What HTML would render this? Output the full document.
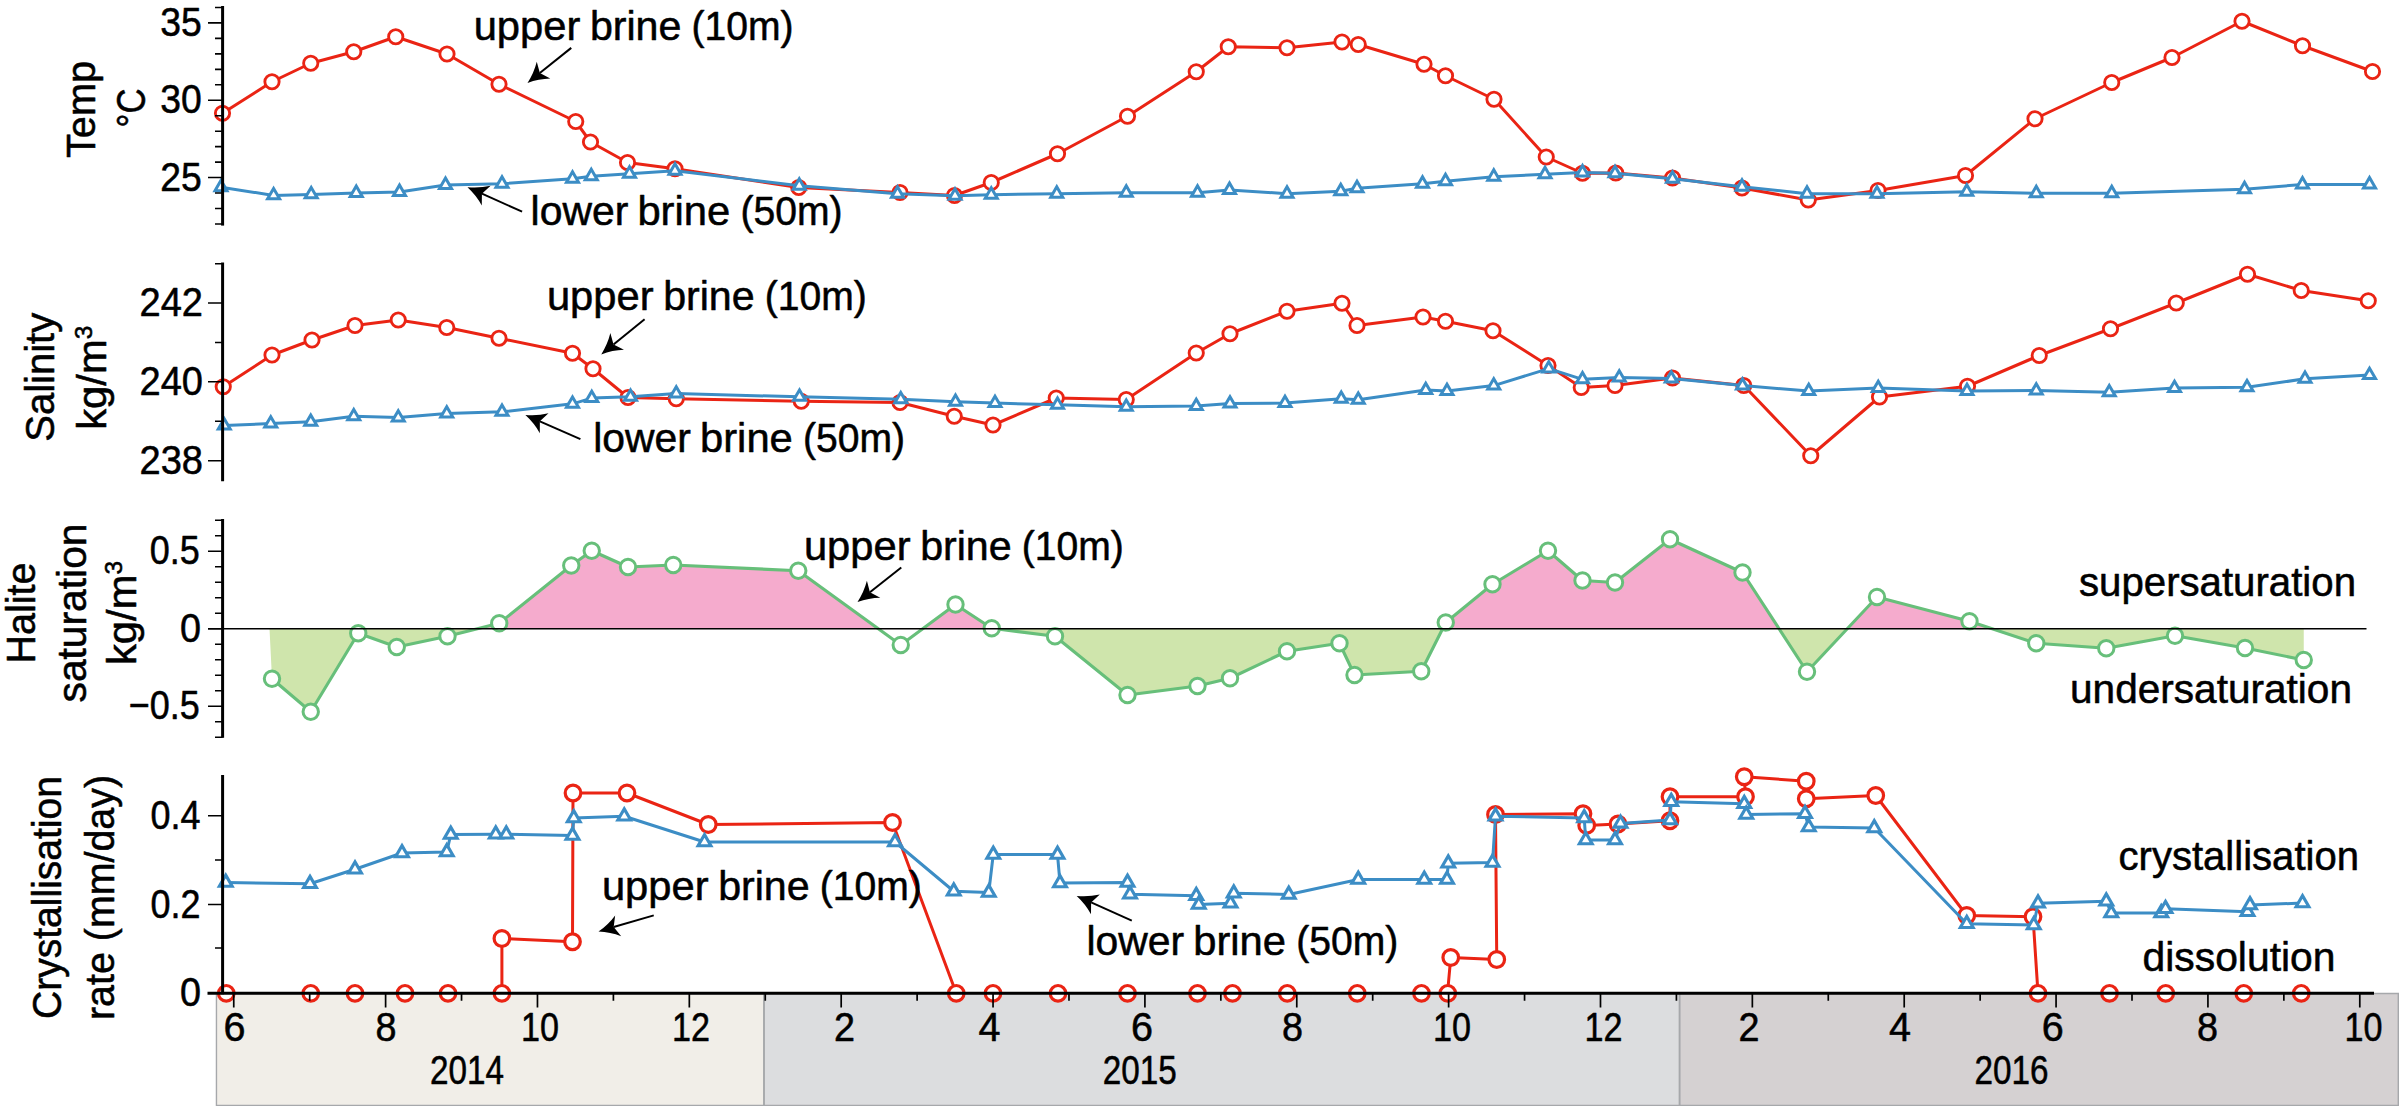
<!DOCTYPE html>
<html lang="en"><head><meta charset="utf-8"><title>Brine time series</title>
<style>html,body{margin:0;padding:0;background:#fff;overflow:hidden}svg{display:block}text{stroke:#000;stroke-width:.55px;stroke-linejoin:round}</style></head><body>
<svg width="2400" height="1106" viewBox="0 0 2400 1106" font-family="Liberation Sans, Arial, sans-serif" fill="#000">
<rect width="2400" height="1106" fill="#fff"/>
<polyline points="222.5,113.25 272,81.75 310.75,63.25 353.75,51.75 395.75,36.75 447,54 499,84.25 575.75,121.5 590.5,142 627.5,162.5 675,168.75 798.75,187.5 900,192.5 954.5,195.5 991.25,182.5 1057.5,153.75 1127.5,116.25 1196.25,71.75 1228.25,46.75 1287,47.75 1342,42 1358.25,44.5 1424,64.25 1445.5,75.75 1494,99.25 1546.25,157 1582.5,173.25 1615.75,173 1672.5,178 1742,188 1808.25,200 1878,190.5 1965.5,175.5 2035,118.75 2111.75,82.5 2172,57.5 2242,21.25 2302.5,45.75 2372.5,71.5" fill="none" stroke="#ea2414" stroke-width="3.0" stroke-linejoin="round"/>
<g fill="#fff" stroke="#ea2414" stroke-width="2.85"><circle cx="222.5" cy="113.25" r="7.15"/><circle cx="272" cy="81.75" r="7.15"/><circle cx="310.75" cy="63.25" r="7.15"/><circle cx="353.75" cy="51.75" r="7.15"/><circle cx="395.75" cy="36.75" r="7.15"/><circle cx="447" cy="54" r="7.15"/><circle cx="499" cy="84.25" r="7.15"/><circle cx="575.75" cy="121.5" r="7.15"/><circle cx="590.5" cy="142" r="7.15"/><circle cx="627.5" cy="162.5" r="7.15"/><circle cx="675" cy="168.75" r="7.15"/><circle cx="798.75" cy="187.5" r="7.15"/><circle cx="900" cy="192.5" r="7.15"/><circle cx="954.5" cy="195.5" r="7.15"/><circle cx="991.25" cy="182.5" r="7.15"/><circle cx="1057.5" cy="153.75" r="7.15"/><circle cx="1127.5" cy="116.25" r="7.15"/><circle cx="1196.25" cy="71.75" r="7.15"/><circle cx="1228.25" cy="46.75" r="7.15"/><circle cx="1287" cy="47.75" r="7.15"/><circle cx="1342" cy="42" r="7.15"/><circle cx="1358.25" cy="44.5" r="7.15"/><circle cx="1424" cy="64.25" r="7.15"/><circle cx="1445.5" cy="75.75" r="7.15"/><circle cx="1494" cy="99.25" r="7.15"/><circle cx="1546.25" cy="157" r="7.15"/><circle cx="1582.5" cy="173.25" r="7.15"/><circle cx="1615.75" cy="173" r="7.15"/><circle cx="1672.5" cy="178" r="7.15"/><circle cx="1742" cy="188" r="7.15"/><circle cx="1808.25" cy="200" r="7.15"/><circle cx="1878" cy="190.5" r="7.15"/><circle cx="1965.5" cy="175.5" r="7.15"/><circle cx="2035" cy="118.75" r="7.15"/><circle cx="2111.75" cy="82.5" r="7.15"/><circle cx="2172" cy="57.5" r="7.15"/><circle cx="2242" cy="21.25" r="7.15"/><circle cx="2302.5" cy="45.75" r="7.15"/><circle cx="2372.5" cy="71.5" r="7.15"/></g>
<polyline points="221,187.2 273.6,195.4 311.2,194.4 356.25,192.95 399.5,191.95 445.5,184.95 502,183.7 572.5,178.7 591.25,176.2 629.5,173.7 675,170.7 799.25,185.7 897.5,193.7 955,195.7 991.25,194.7 1056.75,193.7 1126.25,192.7 1197.5,192.7 1229.5,189.95 1287,193.7 1340.75,191.2 1357,188.2 1422.5,183.7 1445.5,181.2 1493.75,176.7 1545,174.2 1582.5,172.45 1615,173.2 1672.5,178.7 1742,186.7 1807,193.7 1877,193.7 1966.75,191.7 2036.25,193.2 2111.75,193.2 2244.5,189.2 2302.5,184.45 2369.5,184.45" fill="none" stroke="#3c8dc5" stroke-width="3.0" stroke-linejoin="round"/>
<g fill="#fff" stroke="#3c8dc5" stroke-width="3.0" stroke-linejoin="miter"><path d="M221 180.27L227 190.67H215Z"/><path d="M273.6 188.47L279.6 198.87H267.6Z"/><path d="M311.2 187.47L317.2 197.87H305.2Z"/><path d="M356.25 186.02L362.25 196.42H350.25Z"/><path d="M399.5 185.02L405.5 195.42H393.5Z"/><path d="M445.5 178.02L451.5 188.42H439.5Z"/><path d="M502 176.77L508 187.17H496Z"/><path d="M572.5 171.77L578.5 182.17H566.5Z"/><path d="M591.25 169.27L597.25 179.67H585.25Z"/><path d="M629.5 166.77L635.5 177.17H623.5Z"/><path d="M675 163.77L681 174.17H669Z"/><path d="M799.25 178.77L805.25 189.17H793.25Z"/><path d="M897.5 186.77L903.5 197.17H891.5Z"/><path d="M955 188.77L961 199.17H949Z"/><path d="M991.25 187.77L997.25 198.17H985.25Z"/><path d="M1056.75 186.77L1062.75 197.17H1050.75Z"/><path d="M1126.25 185.77L1132.25 196.17H1120.25Z"/><path d="M1197.5 185.77L1203.5 196.17H1191.5Z"/><path d="M1229.5 183.02L1235.5 193.42H1223.5Z"/><path d="M1287 186.77L1293 197.17H1281Z"/><path d="M1340.75 184.27L1346.75 194.67H1334.75Z"/><path d="M1357 181.27L1363 191.67H1351Z"/><path d="M1422.5 176.77L1428.5 187.17H1416.5Z"/><path d="M1445.5 174.27L1451.5 184.67H1439.5Z"/><path d="M1493.75 169.77L1499.75 180.17H1487.75Z"/><path d="M1545 167.27L1551 177.67H1539Z"/><path d="M1582.5 165.52L1588.5 175.92H1576.5Z"/><path d="M1615 166.27L1621 176.67H1609Z"/><path d="M1672.5 171.77L1678.5 182.17H1666.5Z"/><path d="M1742 179.77L1748 190.17H1736Z"/><path d="M1807 186.77L1813 197.17H1801Z"/><path d="M1877 186.77L1883 197.17H1871Z"/><path d="M1966.75 184.77L1972.75 195.17H1960.75Z"/><path d="M2036.25 186.27L2042.25 196.67H2030.25Z"/><path d="M2111.75 186.27L2117.75 196.67H2105.75Z"/><path d="M2244.5 182.27L2250.5 192.67H2238.5Z"/><path d="M2302.5 177.52L2308.5 187.92H2296.5Z"/><path d="M2369.5 177.52L2375.5 187.92H2363.5Z"/></g>
<line x1="222.6" y1="6" x2="222.6" y2="225.6" stroke="#000" stroke-width="3"/>
<path d="M222.6 22.9H208M222.6 100.2H208M222.6 177.5H208M222.6 7.5H215M222.6 38.42H215M222.6 53.88H215M222.6 69.34H215M222.6 84.8H215M222.6 115.72H215M222.6 131.18H215M222.6 146.64H215M222.6 162.1H215M222.6 193.02H215M222.6 208.48H215M222.6 223.94H215" stroke="#000" stroke-width="1.6" fill="none"/>
<text x="201.8" y="36" font-size="41" text-anchor="end" textLength="41.5" lengthAdjust="spacingAndGlyphs">35</text>
<text x="201.8" y="113.3" font-size="41" text-anchor="end" textLength="41.5" lengthAdjust="spacingAndGlyphs">30</text>
<text x="201.8" y="190.6" font-size="41" text-anchor="end" textLength="41.5" lengthAdjust="spacingAndGlyphs">25</text>
<text x="95" y="109.5" font-size="41" text-anchor="middle" textLength="97" lengthAdjust="spacingAndGlyphs" transform="rotate(-90 95 109.5)">Temp</text>
<text x="145" y="108" font-size="41" text-anchor="middle" textLength="39" lengthAdjust="spacingAndGlyphs" transform="rotate(-90 145 108)">°C</text>
<text x="473.65" y="39.8" font-size="41" text-anchor="start" textLength="106.65" lengthAdjust="spacingAndGlyphs">upper</text>
<text x="589.9" y="39.8" font-size="41" text-anchor="start" textLength="91.5" lengthAdjust="spacingAndGlyphs">brine</text>
<text x="691.45" y="39.8" font-size="41" text-anchor="start" textLength="102.1" lengthAdjust="spacingAndGlyphs">(10m)</text>
<text x="530.6" y="224.6" font-size="41" text-anchor="start" textLength="97.7" lengthAdjust="spacingAndGlyphs">lower</text>
<text x="637.4" y="224.6" font-size="41" text-anchor="start" textLength="92.8" lengthAdjust="spacingAndGlyphs">brine</text>
<text x="740.4" y="224.6" font-size="41" text-anchor="start" textLength="102.1" lengthAdjust="spacingAndGlyphs">(50m)</text>
<line x1="571.25" y1="47.9" x2="539.84" y2="73.03" stroke="#000" stroke-width="2"/>
<path d="M527.5 82.9Q533.94 72.9 536.76 61.66L539.84 73.03L550.25 78.53Q538.67 78.81 527.5 82.9Z" fill="#000"/>
<line x1="522.1" y1="211.7" x2="481.92" y2="193.67" stroke="#000" stroke-width="2"/>
<path d="M467.5 187.2Q479.33 188.37 490.62 185.74L481.92 193.67L481.78 205.45Q476.24 195.26 467.5 187.2Z" fill="#000"/>
<polyline points="223.25,386.75 272,355 312,340 355,325.5 398.25,320 446.75,327.5 499,338.25 572.5,353.25 593,368.75 628,397.5 676.25,398.75 801.25,401.25 900,402.5 954.25,416.25 993,425 1056.25,398 1126.25,399.5 1196.25,353 1230,333.75 1287,311.25 1342,303.25 1357,325.5 1423,317 1445.5,321.25 1493,330.75 1548,365.5 1581.25,387.5 1615,385.5 1672.5,378 1743.75,385.5 1810.75,455.75 1879.5,397 1967.5,386.25 2039.25,355.5 2110.5,328.75 2176.25,303 2247.5,274.25 2301.25,290.5 2368.25,300.75" fill="none" stroke="#ea2414" stroke-width="3.0" stroke-linejoin="round"/>
<g fill="#fff" stroke="#ea2414" stroke-width="2.85"><circle cx="223.25" cy="386.75" r="7.15"/><circle cx="272" cy="355" r="7.15"/><circle cx="312" cy="340" r="7.15"/><circle cx="355" cy="325.5" r="7.15"/><circle cx="398.25" cy="320" r="7.15"/><circle cx="446.75" cy="327.5" r="7.15"/><circle cx="499" cy="338.25" r="7.15"/><circle cx="572.5" cy="353.25" r="7.15"/><circle cx="593" cy="368.75" r="7.15"/><circle cx="628" cy="397.5" r="7.15"/><circle cx="676.25" cy="398.75" r="7.15"/><circle cx="801.25" cy="401.25" r="7.15"/><circle cx="900" cy="402.5" r="7.15"/><circle cx="954.25" cy="416.25" r="7.15"/><circle cx="993" cy="425" r="7.15"/><circle cx="1056.25" cy="398" r="7.15"/><circle cx="1126.25" cy="399.5" r="7.15"/><circle cx="1196.25" cy="353" r="7.15"/><circle cx="1230" cy="333.75" r="7.15"/><circle cx="1287" cy="311.25" r="7.15"/><circle cx="1342" cy="303.25" r="7.15"/><circle cx="1357" cy="325.5" r="7.15"/><circle cx="1423" cy="317" r="7.15"/><circle cx="1445.5" cy="321.25" r="7.15"/><circle cx="1493" cy="330.75" r="7.15"/><circle cx="1548" cy="365.5" r="7.15"/><circle cx="1581.25" cy="387.5" r="7.15"/><circle cx="1615" cy="385.5" r="7.15"/><circle cx="1672.5" cy="378" r="7.15"/><circle cx="1743.75" cy="385.5" r="7.15"/><circle cx="1810.75" cy="455.75" r="7.15"/><circle cx="1879.5" cy="397" r="7.15"/><circle cx="1967.5" cy="386.25" r="7.15"/><circle cx="2039.25" cy="355.5" r="7.15"/><circle cx="2110.5" cy="328.75" r="7.15"/><circle cx="2176.25" cy="303" r="7.15"/><circle cx="2247.5" cy="274.25" r="7.15"/><circle cx="2301.25" cy="290.5" r="7.15"/><circle cx="2368.25" cy="300.75" r="7.15"/></g>
<polyline points="224.25,425.6 270.75,423.6 310.75,421.85 353.75,416.35 398.25,417.6 446.75,413.6 502,411.85 572.5,403.85 591.75,398.1 630.5,396.85 676.25,393.6 799.5,396.85 900.75,399.35 955.5,401.85 995,403.1 1057.5,404.85 1126.25,406.85 1196.25,406.1 1230,403.6 1285,403.1 1341.25,398.85 1358.25,399.85 1425.75,390.1 1447,391.1 1493.75,385.6 1548.75,368.6 1582.5,379.35 1619.25,377.6 1671.25,378.6 1742.5,385.6 1808.75,391.1 1878.25,388.1 1967,391.1 2036.25,390.6 2109.25,392.35 2174.5,388.1 2247,387.35 2305,378.85 2369.5,375.1" fill="none" stroke="#3c8dc5" stroke-width="3.0" stroke-linejoin="round"/>
<g fill="#fff" stroke="#3c8dc5" stroke-width="3.0" stroke-linejoin="miter"><path d="M224.25 418.67L230.25 429.07H218.25Z"/><path d="M270.75 416.67L276.75 427.07H264.75Z"/><path d="M310.75 414.92L316.75 425.32H304.75Z"/><path d="M353.75 409.42L359.75 419.82H347.75Z"/><path d="M398.25 410.67L404.25 421.07H392.25Z"/><path d="M446.75 406.67L452.75 417.07H440.75Z"/><path d="M502 404.92L508 415.32H496Z"/><path d="M572.5 396.92L578.5 407.32H566.5Z"/><path d="M591.75 391.17L597.75 401.57H585.75Z"/><path d="M630.5 389.92L636.5 400.32H624.5Z"/><path d="M676.25 386.67L682.25 397.07H670.25Z"/><path d="M799.5 389.92L805.5 400.32H793.5Z"/><path d="M900.75 392.42L906.75 402.82H894.75Z"/><path d="M955.5 394.92L961.5 405.32H949.5Z"/><path d="M995 396.17L1001 406.57H989Z"/><path d="M1057.5 397.92L1063.5 408.32H1051.5Z"/><path d="M1126.25 399.92L1132.25 410.32H1120.25Z"/><path d="M1196.25 399.17L1202.25 409.57H1190.25Z"/><path d="M1230 396.67L1236 407.07H1224Z"/><path d="M1285 396.17L1291 406.57H1279Z"/><path d="M1341.25 391.92L1347.25 402.32H1335.25Z"/><path d="M1358.25 392.92L1364.25 403.32H1352.25Z"/><path d="M1425.75 383.17L1431.75 393.57H1419.75Z"/><path d="M1447 384.17L1453 394.57H1441Z"/><path d="M1493.75 378.67L1499.75 389.07H1487.75Z"/><path d="M1548.75 361.67L1554.75 372.07H1542.75Z"/><path d="M1582.5 372.42L1588.5 382.82H1576.5Z"/><path d="M1619.25 370.67L1625.25 381.07H1613.25Z"/><path d="M1671.25 371.67L1677.25 382.07H1665.25Z"/><path d="M1742.5 378.67L1748.5 389.07H1736.5Z"/><path d="M1808.75 384.17L1814.75 394.57H1802.75Z"/><path d="M1878.25 381.17L1884.25 391.57H1872.25Z"/><path d="M1967 384.17L1973 394.57H1961Z"/><path d="M2036.25 383.67L2042.25 394.07H2030.25Z"/><path d="M2109.25 385.42L2115.25 395.82H2103.25Z"/><path d="M2174.5 381.17L2180.5 391.57H2168.5Z"/><path d="M2247 380.42L2253 390.82H2241Z"/><path d="M2305 371.92L2311 382.32H2299Z"/><path d="M2369.5 368.17L2375.5 378.57H2363.5Z"/></g>
<line x1="222.6" y1="262.5" x2="222.6" y2="481.25" stroke="#000" stroke-width="3"/>
<path d="M222.6 303H208M222.6 381.75H208M222.6 460.75H208M222.6 263.75H215M222.6 342.5H215M222.6 421.25H215" stroke="#000" stroke-width="1.6" fill="none"/>
<text x="203" y="316.1" font-size="41" text-anchor="end" textLength="63.5" lengthAdjust="spacingAndGlyphs">242</text>
<text x="203" y="394.85" font-size="41" text-anchor="end" textLength="63.5" lengthAdjust="spacingAndGlyphs">240</text>
<text x="203" y="473.85" font-size="41" text-anchor="end" textLength="63.5" lengthAdjust="spacingAndGlyphs">238</text>
<text x="53.75" y="377.25" font-size="41" text-anchor="middle" textLength="129" lengthAdjust="spacingAndGlyphs" transform="rotate(-90 53.75 377.25)">Salinity</text>
<text x="106.25" y="377.75" font-size="41" text-anchor="middle" textLength="104" lengthAdjust="spacingAndGlyphs" transform="rotate(-90 106.25 377.75)">kg/m<tspan font-size="24" dy="-14">3</tspan></text>
<text x="546.9" y="310" font-size="41" text-anchor="start" textLength="106.65" lengthAdjust="spacingAndGlyphs">upper</text>
<text x="663.15" y="310" font-size="41" text-anchor="start" textLength="91.5" lengthAdjust="spacingAndGlyphs">brine</text>
<text x="764.7" y="310" font-size="41" text-anchor="start" textLength="102.1" lengthAdjust="spacingAndGlyphs">(10m)</text>
<text x="593.2" y="451.7" font-size="41" text-anchor="start" textLength="97.7" lengthAdjust="spacingAndGlyphs">lower</text>
<text x="700" y="451.7" font-size="41" text-anchor="start" textLength="92.8" lengthAdjust="spacingAndGlyphs">brine</text>
<text x="803" y="451.7" font-size="41" text-anchor="start" textLength="102.1" lengthAdjust="spacingAndGlyphs">(50m)</text>
<line x1="644.6" y1="319.2" x2="613.52" y2="344.44" stroke="#000" stroke-width="2"/>
<path d="M601.25 354.4Q607.62 344.36 610.36 333.09L613.52 344.44L623.97 349.86Q612.39 350.23 601.25 354.4Z" fill="#000"/>
<line x1="580.4" y1="439.2" x2="539.86" y2="421.36" stroke="#000" stroke-width="2"/>
<path d="M525.4 415Q537.24 416.08 548.51 413.37L539.86 421.36L539.81 433.14Q534.2 423 525.4 415Z" fill="#000"/>
<polygon points="269.5,628.75 272,678.75 310.75,711.75 358.25,633.25 396.75,647 447.5,636.25 477.36,628.75" fill="#cfe5ac"/>
<polygon points="477.36,628.75 499.25,623.25 571.25,565.5 591.75,550.75 628,567 673.25,565 798.25,570.75 878.32,628.75" fill="#f5abcd"/>
<polygon points="922.72,628.75 955.5,604.5 991.75,628.25 995.7,628.75" fill="#f5abcd"/>
<polygon points="995.7,628.75 1055,636.25 1127.5,695 1197.5,686 1230,678.25 1287,651.25 1339.5,643.25 1354.5,675 1421.25,671.25 1442.61,628.75" fill="#cfe5ac"/>
<polygon points="1442.61,628.75 1445.75,622.5 1492.5,584.25 1548,550.75 1582.5,580.5 1615,582.5 1670,539.25 1742.5,572.5 1779.06,628.75" fill="#f5abcd"/>
<polygon points="1779.06,628.75 1807,671.75 1847.27,628.75" fill="#cfe5ac"/>
<polygon points="1847.27,628.75 1877,597 1969.5,621.25 1992.26,628.75" fill="#f5abcd"/>
<polygon points="1992.26,628.75 2036.25,643.25 2106.25,648.25 2175,635.75 2245,648 2303.75,660 2303.75,628.75" fill="#cfe5ac"/>
<polyline points="272,678.75 310.75,711.75 358.25,633.25 396.75,647 447.5,636.25 499.25,623.25 571.25,565.5 591.75,550.75 628,567 673.25,565 798.25,570.75 900.75,645 955.5,604.5 991.75,628.25 1055,636.25 1127.5,695 1197.5,686 1230,678.25 1287,651.25 1339.5,643.25 1354.5,675 1421.25,671.25 1445.75,622.5 1492.5,584.25 1548,550.75 1582.5,580.5 1615,582.5 1670,539.25 1742.5,572.5 1807,671.75 1877,597 1969.5,621.25 2036.25,643.25 2106.25,648.25 2175,635.75 2245,648 2303.75,660" fill="none" stroke="#67bf7a" stroke-width="3.1" stroke-linejoin="round"/>
<g fill="#fff" stroke="#67bf7a" stroke-width="3.0"><circle cx="272" cy="678.75" r="7.7"/><circle cx="310.75" cy="711.75" r="7.7"/><circle cx="358.25" cy="633.25" r="7.7"/><circle cx="396.75" cy="647" r="7.7"/><circle cx="447.5" cy="636.25" r="7.7"/><circle cx="499.25" cy="623.25" r="7.7"/><circle cx="571.25" cy="565.5" r="7.7"/><circle cx="591.75" cy="550.75" r="7.7"/><circle cx="628" cy="567" r="7.7"/><circle cx="673.25" cy="565" r="7.7"/><circle cx="798.25" cy="570.75" r="7.7"/><circle cx="900.75" cy="645" r="7.7"/><circle cx="955.5" cy="604.5" r="7.7"/><circle cx="991.75" cy="628.25" r="7.7"/><circle cx="1055" cy="636.25" r="7.7"/><circle cx="1127.5" cy="695" r="7.7"/><circle cx="1197.5" cy="686" r="7.7"/><circle cx="1230" cy="678.25" r="7.7"/><circle cx="1287" cy="651.25" r="7.7"/><circle cx="1339.5" cy="643.25" r="7.7"/><circle cx="1354.5" cy="675" r="7.7"/><circle cx="1421.25" cy="671.25" r="7.7"/><circle cx="1445.75" cy="622.5" r="7.7"/><circle cx="1492.5" cy="584.25" r="7.7"/><circle cx="1548" cy="550.75" r="7.7"/><circle cx="1582.5" cy="580.5" r="7.7"/><circle cx="1615" cy="582.5" r="7.7"/><circle cx="1670" cy="539.25" r="7.7"/><circle cx="1742.5" cy="572.5" r="7.7"/><circle cx="1807" cy="671.75" r="7.7"/><circle cx="1877" cy="597" r="7.7"/><circle cx="1969.5" cy="621.25" r="7.7"/><circle cx="2036.25" cy="643.25" r="7.7"/><circle cx="2106.25" cy="648.25" r="7.7"/><circle cx="2175" cy="635.75" r="7.7"/><circle cx="2245" cy="648" r="7.7"/><circle cx="2303.75" cy="660" r="7.7"/></g>
<line x1="208" y1="628.75" x2="2366.5" y2="628.75" stroke="#000" stroke-width="1.3"/>
<line x1="222.6" y1="519" x2="222.6" y2="737.8" stroke="#000" stroke-width="3"/>
<path d="M222.6 551.25H208M222.6 628.75H208M222.6 706.25H208M222.6 520.25H215M222.6 535.75H215M222.6 566.75H215M222.6 582.25H215M222.6 597.75H215M222.6 613.25H215M222.6 644.25H215M222.6 659.75H215M222.6 675.25H215M222.6 690.75H215M222.6 721.75H215M222.6 737.25H215" stroke="#000" stroke-width="1.6" fill="none"/>
<text x="199.8" y="564.3" font-size="41" text-anchor="end" textLength="50" lengthAdjust="spacingAndGlyphs">0.5</text>
<text x="201" y="641.8" font-size="41" text-anchor="end" textLength="21" lengthAdjust="spacingAndGlyphs">0</text>
<text x="199.8" y="719.3" font-size="41" text-anchor="end" textLength="71" lengthAdjust="spacingAndGlyphs">−0.5</text>
<text x="35" y="613" font-size="41" text-anchor="middle" textLength="101" lengthAdjust="spacingAndGlyphs" transform="rotate(-90 35 613)">Halite</text>
<text x="86.25" y="613" font-size="41" text-anchor="middle" textLength="179" lengthAdjust="spacingAndGlyphs" transform="rotate(-90 86.25 613)">saturation</text>
<text x="136.25" y="613" font-size="41" text-anchor="middle" textLength="104" lengthAdjust="spacingAndGlyphs" transform="rotate(-90 136.25 613)">kg/m<tspan font-size="24" dy="-14">3</tspan></text>
<text x="803.9" y="559.7" font-size="41" text-anchor="start" textLength="106.65" lengthAdjust="spacingAndGlyphs">upper</text>
<text x="920.15" y="559.7" font-size="41" text-anchor="start" textLength="91.5" lengthAdjust="spacingAndGlyphs">brine</text>
<text x="1021.7" y="559.7" font-size="41" text-anchor="start" textLength="102.1" lengthAdjust="spacingAndGlyphs">(10m)</text>
<line x1="901.25" y1="567.5" x2="869.91" y2="592.22" stroke="#000" stroke-width="2"/>
<path d="M857.5 602Q864.01 592.05 866.91 580.83L869.91 592.22L880.28 597.79Q868.69 597.99 857.5 602Z" fill="#000"/>
<text x="2079" y="595.5" font-size="41" text-anchor="start" textLength="277" lengthAdjust="spacingAndGlyphs">supersaturation</text>
<text x="2070" y="702.5" font-size="41" text-anchor="start" textLength="282" lengthAdjust="spacingAndGlyphs">undersaturation</text>
<rect x="216.4" y="993.5" width="547.6" height="113" fill="#f1eee8"/>
<rect x="764" y="993.5" width="915.6" height="113" fill="#dcdddf"/>
<rect x="1679.6" y="993.5" width="718.7" height="113" fill="#d5d1d2"/>
<path d="M216.45 993.5V1105.4H2398.3V993.5Z" fill="none" stroke="#a6a8ab" stroke-width="1.4"/>
<path d="M764 993.5V1105M1679.6 993.5V1105" fill="none" stroke="#a6a8ab" stroke-width="1.9"/>
<polyline points="501.9,993.3 501.9,938.5 572.5,941.75 573,793 627,793 708.25,824.5 892.5,822.5 956.25,993.3" fill="none" stroke="#ea2414" stroke-width="3.0" stroke-linejoin="round"/>
<polyline points="1447.5,993.3 1450.75,957.5 1496.75,959.5 1495.5,814.5 1583,813.75 1586.7,825.4 1618,824 1670,820.75 1670,796.75 1745.5,796.75 1744.25,776.75 1806.25,781.25 1806.25,798.75 1875.75,795.5 1966.75,915.5 2033,916.75 2038,993.3" fill="none" stroke="#ea2414" stroke-width="3.0" stroke-linejoin="round"/>
<g fill="#fff" stroke="#ea2414" stroke-width="3.2"><circle cx="226.25" cy="993.3" r="7.8"/><circle cx="310.75" cy="993.3" r="7.8"/><circle cx="355" cy="993.3" r="7.8"/><circle cx="405" cy="993.3" r="7.8"/><circle cx="448" cy="993.3" r="7.8"/><circle cx="501.9" cy="993.3" r="7.8"/><circle cx="956.25" cy="993.3" r="7.8"/><circle cx="993" cy="993.3" r="7.8"/><circle cx="1058" cy="993.3" r="7.8"/><circle cx="1127.5" cy="993.3" r="7.8"/><circle cx="1197.5" cy="993.3" r="7.8"/><circle cx="1232.5" cy="993.3" r="7.8"/><circle cx="1287.25" cy="993.3" r="7.8"/><circle cx="1357.25" cy="993.3" r="7.8"/><circle cx="1421.5" cy="993.3" r="7.8"/><circle cx="1447.75" cy="993.3" r="7.8"/><circle cx="2038" cy="993.3" r="7.8"/><circle cx="2109.5" cy="993.3" r="7.8"/><circle cx="2165.75" cy="993.3" r="7.8"/><circle cx="2243.75" cy="993.3" r="7.8"/><circle cx="2301.25" cy="993.3" r="7.8"/><circle cx="501.9" cy="938.5" r="7.8"/><circle cx="572.5" cy="941.75" r="7.8"/><circle cx="573" cy="793" r="7.8"/><circle cx="627" cy="793" r="7.8"/><circle cx="708.25" cy="824.5" r="7.8"/><circle cx="892.5" cy="822.5" r="7.8"/><circle cx="1450.75" cy="957.5" r="7.8"/><circle cx="1496.75" cy="959.5" r="7.8"/><circle cx="1495.5" cy="814.5" r="7.8"/><circle cx="1583" cy="813.75" r="7.8"/><circle cx="1586.7" cy="825.4" r="7.8"/><circle cx="1618" cy="824" r="7.8"/><circle cx="1670" cy="820.75" r="7.8"/><circle cx="1670" cy="796.75" r="7.8"/><circle cx="1745.5" cy="796.75" r="7.8"/><circle cx="1744.25" cy="776.75" r="7.8"/><circle cx="1806.25" cy="781.25" r="7.8"/><circle cx="1806.25" cy="798.75" r="7.8"/><circle cx="1875.75" cy="795.5" r="7.8"/><circle cx="1966.75" cy="915.5" r="7.8"/><circle cx="2033" cy="916.75" r="7.8"/></g>
<polyline points="225.75,882.5 310,883.75 355,869.25 402,853 446.75,852 450.75,834.5 495.75,834.25 506.25,834.25 572.5,835.5 573.75,818 624.25,816.25 704.5,842 895,842 953.75,891.25 988.75,892.5 993.25,854.5 1057.5,854.5 1060,883 1127.5,882.5 1130,894.25 1196.25,895.75 1198.75,904.5 1230.5,903.25 1233.75,893.25 1288.75,894.5 1358.25,879.5 1424.25,879.5 1447,879.5 1448.25,863.25 1492.5,862.5 1495.5,816.25 1584.2,818 1585.75,840 1615,840 1620.5,823.4 1670,820 1671.25,801.75 1744.25,803.75 1746.25,814.5 1805,813.75 1808.75,827 1874.25,828 1966.75,923.75 2033.75,925 2038,903.25 2106.25,901.25 2111.25,913 2161.25,913 2165.5,908.75 2247.5,911.75 2250,905 2302.5,903" fill="none" stroke="#3c8dc5" stroke-width="3.0" stroke-linejoin="round"/>
<g fill="#fff" stroke="#3c8dc5" stroke-width="3.1" stroke-linejoin="miter"><path d="M225.75 875.1L232.16 886.2H219.34Z"/><path d="M310 876.35L316.41 887.45H303.59Z"/><path d="M355 861.85L361.41 872.95H348.59Z"/><path d="M402 845.6L408.41 856.7H395.59Z"/><path d="M446.75 844.6L453.16 855.7H440.34Z"/><path d="M450.75 827.1L457.16 838.2H444.34Z"/><path d="M495.75 826.85L502.16 837.95H489.34Z"/><path d="M506.25 826.85L512.66 837.95H499.84Z"/><path d="M572.5 828.1L578.91 839.2H566.09Z"/><path d="M573.75 810.6L580.16 821.7H567.34Z"/><path d="M624.25 808.85L630.66 819.95H617.84Z"/><path d="M704.5 834.6L710.91 845.7H698.09Z"/><path d="M895 834.6L901.41 845.7H888.59Z"/><path d="M953.75 883.85L960.16 894.95H947.34Z"/><path d="M988.75 885.1L995.16 896.2H982.34Z"/><path d="M993.25 847.1L999.66 858.2H986.84Z"/><path d="M1057.5 847.1L1063.91 858.2H1051.09Z"/><path d="M1060 875.6L1066.41 886.7H1053.59Z"/><path d="M1127.5 875.1L1133.91 886.2H1121.09Z"/><path d="M1130 886.85L1136.41 897.95H1123.59Z"/><path d="M1196.25 888.35L1202.66 899.45H1189.84Z"/><path d="M1198.75 897.1L1205.16 908.2H1192.34Z"/><path d="M1230.5 895.85L1236.91 906.95H1224.09Z"/><path d="M1233.75 885.85L1240.16 896.95H1227.34Z"/><path d="M1288.75 887.1L1295.16 898.2H1282.34Z"/><path d="M1358.25 872.1L1364.66 883.2H1351.84Z"/><path d="M1424.25 872.1L1430.66 883.2H1417.84Z"/><path d="M1447 872.1L1453.41 883.2H1440.59Z"/><path d="M1448.25 855.85L1454.66 866.95H1441.84Z"/><path d="M1492.5 855.1L1498.91 866.2H1486.09Z"/><path d="M1495.5 808.85L1501.91 819.95H1489.09Z"/><path d="M1584.2 810.6L1590.61 821.7H1577.79Z"/><path d="M1585.75 832.6L1592.16 843.7H1579.34Z"/><path d="M1615 832.6L1621.41 843.7H1608.59Z"/><path d="M1620.5 816L1626.91 827.1H1614.09Z"/><path d="M1670 812.6L1676.41 823.7H1663.59Z"/><path d="M1671.25 794.35L1677.66 805.45H1664.84Z"/><path d="M1744.25 796.35L1750.66 807.45H1737.84Z"/><path d="M1746.25 807.1L1752.66 818.2H1739.84Z"/><path d="M1805 806.35L1811.41 817.45H1798.59Z"/><path d="M1808.75 819.6L1815.16 830.7H1802.34Z"/><path d="M1874.25 820.6L1880.66 831.7H1867.84Z"/><path d="M1966.75 916.35L1973.16 927.45H1960.34Z"/><path d="M2033.75 917.6L2040.16 928.7H2027.34Z"/><path d="M2038 895.85L2044.41 906.95H2031.59Z"/><path d="M2106.25 893.85L2112.66 904.95H2099.84Z"/><path d="M2111.25 905.6L2117.66 916.7H2104.84Z"/><path d="M2161.25 905.6L2167.66 916.7H2154.84Z"/><path d="M2165.5 901.35L2171.91 912.45H2159.09Z"/><path d="M2247.5 904.35L2253.91 915.45H2241.09Z"/><path d="M2250 897.6L2256.41 908.7H2243.59Z"/><path d="M2302.5 895.6L2308.91 906.7H2296.09Z"/></g>
<line x1="222.6" y1="775" x2="222.6" y2="994.3" stroke="#000" stroke-width="3"/>
<path d="M222.6 815.75H208M222.6 904.5H208M222.6 860H215M222.6 948H215" stroke="#000" stroke-width="1.6" fill="none"/>
<line x1="207.5" y1="993.3" x2="2374" y2="993.3" stroke="#000" stroke-width="2.9"/>
<path d="M233.75 993V1007.6M309.68 993V1000.8M385.61 993V1007.6M461.54 993V1000.8M537.47 993V1007.6M613.4 993V1000.8M689.33 993V1007.6M765.26 993V1000.8M841.19 993V1007.6M917.12 993V1000.8M993.05 993V1007.6M1068.98 993V1000.8M1144.91 993V1007.6M1220.84 993V1000.8M1296.77 993V1007.6M1372.7 993V1000.8M1448.63 993V1007.6M1524.56 993V1000.8M1600.49 993V1007.6M1676.42 993V1000.8M1752.35 993V1007.6M1828.28 993V1000.8M1904.21 993V1007.6M1980.14 993V1000.8M2056.07 993V1007.6M2132 993V1000.8M2207.93 993V1007.6M2283.86 993V1000.8M2359.79 993V1007.6" stroke="#000" stroke-width="1.7" fill="none"/>
<text x="200.5" y="828.8" font-size="41" text-anchor="end" textLength="50" lengthAdjust="spacingAndGlyphs">0.4</text>
<text x="200.5" y="917.6" font-size="41" text-anchor="end" textLength="50" lengthAdjust="spacingAndGlyphs">0.2</text>
<text x="201" y="1006.2" font-size="41" text-anchor="end" textLength="21" lengthAdjust="spacingAndGlyphs">0</text>
<text x="234.5" y="1041" font-size="41" text-anchor="middle" textLength="22" lengthAdjust="spacingAndGlyphs">6</text>
<text x="385.9" y="1041" font-size="41" text-anchor="middle" textLength="21" lengthAdjust="spacingAndGlyphs">8</text>
<text x="540" y="1041" font-size="41" text-anchor="middle" textLength="38" lengthAdjust="spacingAndGlyphs">10</text>
<text x="691" y="1041" font-size="41" text-anchor="middle" textLength="38" lengthAdjust="spacingAndGlyphs">12</text>
<text x="844.5" y="1041" font-size="41" text-anchor="middle" textLength="21" lengthAdjust="spacingAndGlyphs">2</text>
<text x="989.5" y="1041" font-size="41" text-anchor="middle" textLength="22" lengthAdjust="spacingAndGlyphs">4</text>
<text x="1142" y="1041" font-size="41" text-anchor="middle" textLength="22" lengthAdjust="spacingAndGlyphs">6</text>
<text x="1292.5" y="1041" font-size="41" text-anchor="middle" textLength="21" lengthAdjust="spacingAndGlyphs">8</text>
<text x="1452" y="1041" font-size="41" text-anchor="middle" textLength="38" lengthAdjust="spacingAndGlyphs">10</text>
<text x="1603.4" y="1041" font-size="41" text-anchor="middle" textLength="38" lengthAdjust="spacingAndGlyphs">12</text>
<text x="1749" y="1041" font-size="41" text-anchor="middle" textLength="21" lengthAdjust="spacingAndGlyphs">2</text>
<text x="1900" y="1041" font-size="41" text-anchor="middle" textLength="22" lengthAdjust="spacingAndGlyphs">4</text>
<text x="2052.75" y="1041" font-size="41" text-anchor="middle" textLength="22" lengthAdjust="spacingAndGlyphs">6</text>
<text x="2207.5" y="1041" font-size="41" text-anchor="middle" textLength="21" lengthAdjust="spacingAndGlyphs">8</text>
<text x="2363.5" y="1041" font-size="41" text-anchor="middle" textLength="38" lengthAdjust="spacingAndGlyphs">10</text>
<text x="467" y="1084.25" font-size="41" text-anchor="middle" textLength="74" lengthAdjust="spacingAndGlyphs">2014</text>
<text x="1139.75" y="1084.25" font-size="41" text-anchor="middle" textLength="74" lengthAdjust="spacingAndGlyphs">2015</text>
<text x="2011.6" y="1084.25" font-size="41" text-anchor="middle" textLength="74" lengthAdjust="spacingAndGlyphs">2016</text>
<text x="61.25" y="897.5" font-size="41" text-anchor="middle" textLength="243" lengthAdjust="spacingAndGlyphs" transform="rotate(-90 61.25 897.5)">Crystallisation</text>
<text x="113.75" y="897.5" font-size="41" text-anchor="middle" textLength="245" lengthAdjust="spacingAndGlyphs" transform="rotate(-90 113.75 897.5)">rate (mm/day)</text>
<text x="601.9" y="899.7" font-size="41" text-anchor="start" textLength="106.65" lengthAdjust="spacingAndGlyphs">upper</text>
<text x="718.15" y="899.7" font-size="41" text-anchor="start" textLength="91.5" lengthAdjust="spacingAndGlyphs">brine</text>
<text x="819.7" y="899.7" font-size="41" text-anchor="start" textLength="102.1" lengthAdjust="spacingAndGlyphs">(10m)</text>
<text x="1086.4" y="954.6" font-size="41" text-anchor="start" textLength="97.7" lengthAdjust="spacingAndGlyphs">lower</text>
<text x="1193.2" y="954.6" font-size="41" text-anchor="start" textLength="92.8" lengthAdjust="spacingAndGlyphs">brine</text>
<text x="1296.2" y="954.6" font-size="41" text-anchor="start" textLength="102.1" lengthAdjust="spacingAndGlyphs">(50m)</text>
<line x1="653.75" y1="915.4" x2="613.67" y2="927.08" stroke="#000" stroke-width="2"/>
<path d="M598.5 931.5Q608.27 924.72 615.16 915.4L613.67 927.08L621.2 936.13Q610.38 931.97 598.5 931.5Z" fill="#000"/>
<line x1="1131.8" y1="920.7" x2="1091.12" y2="902.46" stroke="#000" stroke-width="2"/>
<path d="M1076.7 896Q1088.53 897.16 1099.82 894.53L1091.12 902.46L1090.99 914.24Q1085.44 904.06 1076.7 896Z" fill="#000"/>
<text x="2118.5" y="870" font-size="41" text-anchor="start" textLength="240.5" lengthAdjust="spacingAndGlyphs">crystallisation</text>
<text x="2142.5" y="970.75" font-size="41" text-anchor="start" textLength="193" lengthAdjust="spacingAndGlyphs">dissolution</text>
</svg></body></html>
